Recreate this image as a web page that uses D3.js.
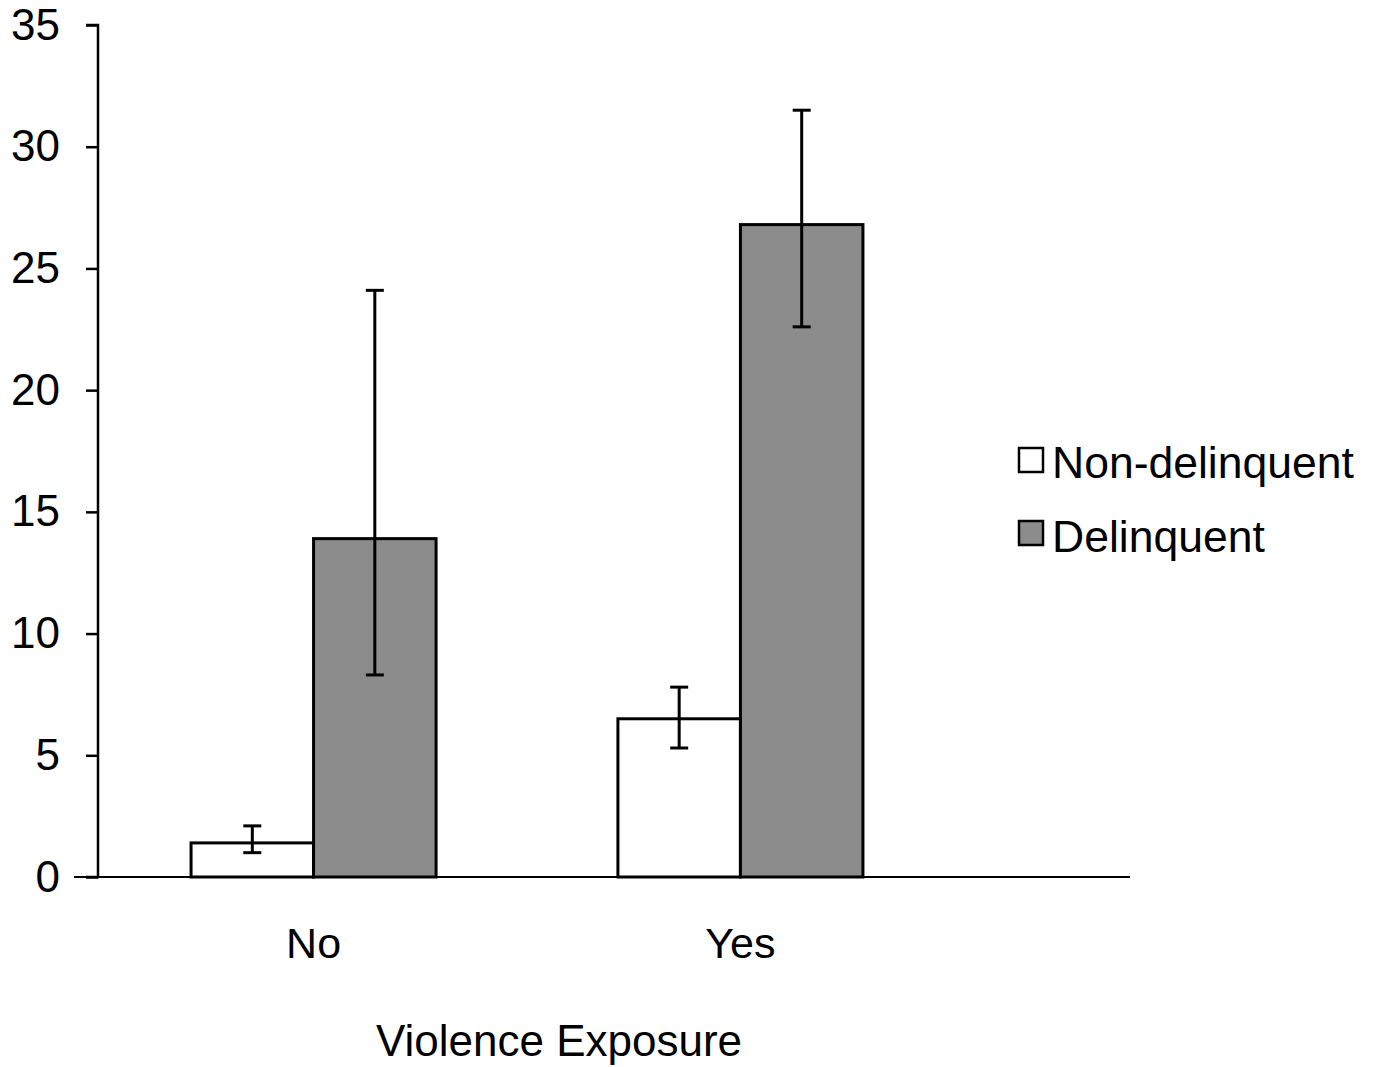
<!DOCTYPE html>
<html>
<head>
<meta charset="utf-8">
<script src="https://cdn.jsdelivr.net/npm/d3@7"></script>
<style>
  body { margin: 0; background: #fff; }
  text { font-family: "Liberation Sans", Arial, sans-serif; fill: #000; }
</style>
</head>
<body>
<div id="chart"></div>
<script>
// data
var categories = ["No", "Yes"];
var series = ["Non-delinquent", "Delinquent"];
var seriesColors = ["#ffffff", "#8c8c8c"];
var nonDelMean = [1.4, 6.5];
var nonDelLow = [1.0, 5.3];
var nonDelHigh = [2.1, 7.8];
var delMean = [13.9, 26.8];
var delLow = [8.3, 22.6];
var delHigh = [24.1, 31.5];
var yTicks = [0, 5, 10, 15, 20, 25, 30, 35];
var xTitle = "Violence Exposure";

var width = 1376, height = 1067;

var svg = d3.select("#chart")
    .append("svg")
    .attr("width", width)
    .attr("height", height);

var y = d3.scaleLinear()
    .domain([0, 35])
    .range([877, 25]);

var x0 = d3.scaleBand()
    .domain(categories)
    .range([98, 956])
    .paddingInner(0.426)
    .paddingOuter(0.218);

var x1 = d3.scaleBand()
    .domain(series)
    .range([0, x0.bandwidth()]);

// rows for the bars
var rows = [];
categories.forEach(function (c, i) {
    rows.push({ cat: c, s: series[0], v: nonDelMean[i], lo: nonDelLow[i], hi: nonDelHigh[i] });
    rows.push({ cat: c, s: series[1], v: delMean[i], lo: delLow[i], hi: delHigh[i] });
});

// bars
svg.selectAll("rect.bar")
    .data(rows)
    .enter()
    .append("rect")
    .attr("class", "bar")
    .attr("x", function (d) { return x0(d.cat) + x1(d.s); })
    .attr("y", function (d) { return y(d.v); })
    .attr("width", x1.bandwidth())
    .attr("height", function (d) { return y(0) - y(d.v); })
    .style("fill", function (d) { return seriesColors[series.indexOf(d.s)]; })
    .style("stroke", "#000")
    .style("stroke-width", 3);

// x axis line
svg.append("line")
    .attr("x1", 74)
    .attr("x2", 1130)
    .attr("y1", y(0))
    .attr("y2", y(0))
    .style("stroke", "#000")
    .style("stroke-width", 2);

// error bars
var err = svg.selectAll("g.err")
    .data(rows)
    .enter()
    .append("g")
    .attr("class", "err")
    .attr("transform", function (d) { return "translate(" + (x0(d.cat) + x1(d.s) + x1.bandwidth() / 2) + ",0)"; });

err.append("line")
    .attr("x1", 0).attr("x2", 0)
    .attr("y1", function (d) { return y(d.lo); })
    .attr("y2", function (d) { return y(d.hi); });
err.append("line")
    .attr("x1", -9).attr("x2", 9)
    .attr("y1", function (d) { return y(d.lo); })
    .attr("y2", function (d) { return y(d.lo); });
err.append("line")
    .attr("x1", -9).attr("x2", 9)
    .attr("y1", function (d) { return y(d.hi); })
    .attr("y2", function (d) { return y(d.hi); });
err.selectAll("line")
    .style("stroke", "#000")
    .style("stroke-width", 3);

// y axis
var yAxis = svg.append("g")
    .attr("transform", "translate(98,0)")
    .call(d3.axisLeft(y).tickValues(yTicks).tickSize(12).tickPadding(26));

yAxis.select(".domain")
    .attr("d", "M-12," + y(35) + "H0V" + y(0) + "H-12")
    .style("stroke", "#000")
    .style("stroke-width", 2.5);
yAxis.selectAll(".tick line").style("stroke", "#000").style("stroke-width", 2.5);
yAxis.selectAll(".tick text")
    .style("font-size", "44px")
    .style("font-family", "Liberation Sans, Arial, sans-serif")
    .attr("fill", "#000");

// category labels
svg.selectAll("text.cat")
    .data(categories)
    .enter()
    .append("text")
    .attr("class", "cat")
    .attr("x", function (d) { return x0(d) + x0.bandwidth() / 2; })
    .attr("y", 958)
    .attr("text-anchor", "middle")
    .style("font-size", "43px")
    .text(function (d) { return d; });

// axis title
svg.append("text")
    .attr("x", 559)
    .attr("y", 1056)
    .attr("text-anchor", "middle")
    .style("font-size", "44px")
    .text(xTitle);

// legend
var legend = svg.append("g")
    .attr("class", "legend")
    .attr("transform", "translate(1019,448)");

series.forEach(function (s, i) {
    legend.append("rect")
        .attr("x", 0)
        .attr("y", i * 73)
        .attr("width", 24)
        .attr("height", 24)
        .style("fill", seriesColors[i])
        .style("stroke", "#000")
        .style("stroke-width", 2.5);
    legend.append("text")
        .attr("x", 33)
        .attr("y", 30 + i * 74)
        .style("font-size", "44.5px")
        .text(s);
});
</script>
</body>
</html>
